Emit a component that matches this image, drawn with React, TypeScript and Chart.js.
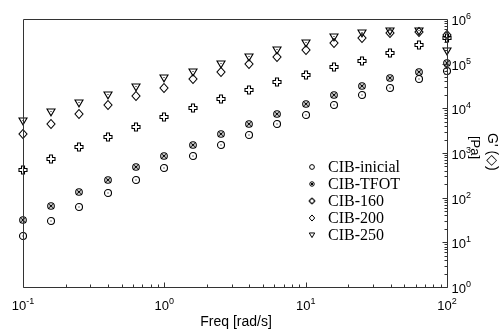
import React, { useEffect, useRef } from "react";
import { Chart, registerables } from "chart.js";

Chart.register(...registerables);

const freq = [0.1, 0.158, 0.251, 0.398, 0.631, 1, 1.585, 2.512, 3.981, 6.31, 10, 15.85, 25.12, 39.81, 63.1, 100];
const cibInicial = [13.6, 30.6, 63, 127, 253, 462, 857, 1485, 2570, 4460, 7210, 11880, 19540, 28500, 46100, 67000];
const cibTFOT = [31, 66, 132, 253, 478, 872, 1510, 2660, 4460, 7600, 12500, 19900, 31600, 47800, 65000, 103500];
const cib160 = [423, 734, 1340, 2280, 3820, 6400, 10170, 16440, 25700, 38900, 55700, 82800, 114800, 172000, 262000, 372000];
const cib200 = [2660, 4460, 7600, 11880, 18880, 28500, 46100, 66200, 100000, 141000, 205600, 290000, 369000, 487000, 510000, 447000];
const cib250 = [5120, 8130, 12940, 19900, 30000, 46900, 65000, 100000, 143500, 202000, 285000, 389000, 487000, 540000, 548000, 188000];
const seriesLabels = ["CIB-inicial", "CIB-TFOT", "CIB-160", "CIB-200", "CIB-250"];
const markerKinds = ["circle", "tfot", "plus", "diamond", "tri"];
const xDecades = [-1, 0, 1, 2];
const yDecades = [0, 1, 2, 3, 4, 5, 6];
const xTitle = "Freq [rad/s]";
const yTitle1 = "G' (\u25C7)";
const yTitle2 = "[Pa]";

function makeMarker(kind: string, scale: number): HTMLCanvasElement {
  const s = 12;
  const cv = document.createElement("canvas");
  cv.width = s;
  cv.height = s;
  const g = cv.getContext("2d")!;
  const c = 6;
  g.strokeStyle = "#000";
  g.fillStyle = "#000";
  g.lineWidth = scale > 0.8 ? 1.1 : 1;
  const k = scale;
  g.beginPath();
  if (kind === "circle") {
    g.arc(c, c, 3.5 * k, 0, Math.PI * 2);
    g.stroke();
    if (scale > 0.8) g.fillRect(c - 0.5, c - 0.5, 1, 1);
  } else if (kind === "tfot") {
    g.arc(c, c, 3.3 * k, 0, Math.PI * 2);
    g.stroke();
    g.beginPath();
    const h = 1.7 * k;
    g.moveTo(c - h, c - h); g.lineTo(c + h, c + h);
    g.moveTo(c + h, c - h); g.lineTo(c - h, c + h);
    g.stroke();
  } else if (kind === "plus") {
    const a = 1.5 * k, b = 4 * k;
    g.moveTo(c - a, c - b); g.lineTo(c + a, c - b); g.lineTo(c + a, c - a); g.lineTo(c + b, c - a);
    g.lineTo(c + b, c + a); g.lineTo(c + a, c + a); g.lineTo(c + a, c + b); g.lineTo(c - a, c + b);
    g.lineTo(c - a, c + a); g.lineTo(c - b, c + a); g.lineTo(c - b, c - a); g.lineTo(c - a, c - a);
    g.closePath();
    g.stroke();
  } else if (kind === "diamond") {
    g.moveTo(c, c - 4.5 * k); g.lineTo(c + 4 * k, c); g.lineTo(c, c + 4.5 * k); g.lineTo(c - 4 * k, c);
    g.closePath();
    g.stroke();
  } else {
    g.moveTo(c - 4 * k, c - 3 * k); g.lineTo(c + 4 * k, c - 3 * k); g.lineTo(c, c + 3.8 * k);
    g.closePath();
    g.stroke();
    if (scale > 0.8) g.fillRect(c - 0.5, c - 1, 1, 1);
  }
  return cv;
}

let legendMarkers: HTMLCanvasElement[] = [];

function drawPow(ctx: CanvasRenderingContext2D, exp: number, x: number, baseline: number, align: "center" | "left") {
  const baseFont = "13px 'Liberation Sans', Arial, sans-serif";
  const expFont = "9px 'Liberation Sans', Arial, sans-serif";
  const es = String(exp);
  ctx.font = baseFont;
  const wb = ctx.measureText("10").width;
  ctx.font = expFont;
  const we = ctx.measureText(es).width;
  const total = wb + we;
  const x0 = align === "center" ? x - total / 2 : x;
  ctx.textAlign = "left";
  ctx.textBaseline = "alphabetic";
  ctx.font = baseFont;
  ctx.fillText("10", x0, baseline);
  ctx.font = expFont;
  ctx.fillText(es, x0 + wb, baseline - 6);
}

const snapPlugin = {
  id: "snapPoints",
  beforeDatasetsDraw(chart: any) {
    chart.data.datasets.forEach((_: any, i: number) => {
      const meta = chart.getDatasetMeta(i);
      meta.data.forEach((el: any) => {
        el.x = Math.round(el.x);
        el.y = Math.round(el.y);
      });
    });
  },
};

const axesPlugin = {
  id: "customAxes",
  afterDraw(chart: any) {
    const { ctx, chartArea: a } = chart;
    const xs = chart.scales.x;
    const ys = chart.scales.y;
    ctx.save();
    ctx.strokeStyle = "#333";
    ctx.lineWidth = 1;
    const L = Math.round(a.left) + 0.5, R = Math.round(a.right) + 0.5;
    const T = Math.round(a.top) + 0.5, B = Math.round(a.bottom) + 0.5;
    ctx.beginPath();
    ctx.moveTo(L, T); ctx.lineTo(R, T); ctx.lineTo(R, B); ctx.lineTo(L, B); ctx.closePath();
    ctx.stroke();
    ctx.beginPath();
    for (let d = -1; d <= 1; d++) {
      for (let m = 1; m <= 9; m++) {
        const v = m * Math.pow(10, d);
        const px = Math.round(xs.getPixelForValue(v)) + 0.5;
        const len = m === 1 ? 5 : 3;
        ctx.moveTo(px, B); ctx.lineTo(px, B - len);
      }
    }
    for (let d = 0; d <= 5; d++) {
      for (let m = 1; m <= 9; m++) {
        const v = m * Math.pow(10, d);
        const py = Math.round(ys.getPixelForValue(v)) + 0.5;
        const len = m === 1 ? 5 : 3;
        ctx.moveTo(R, py); ctx.lineTo(R - len, py);
      }
    }
    ctx.stroke();
    ctx.fillStyle = "#000";
    xDecades.forEach((e) => {
      drawPow(ctx, e, xs.getPixelForValue(Math.pow(10, e)), 310, "center");
    });
    yDecades.forEach((e) => {
      drawPow(ctx, e, R + 4, ys.getPixelForValue(Math.pow(10, e)) + 6, "left");
    });
    ctx.font = "14px 'Liberation Sans', Arial, sans-serif";
    ctx.textAlign = "center";
    ctx.textBaseline = "alphabetic";
    ctx.fillText(xTitle, (a.left + a.right) / 2 + 1, 326);
    ctx.save();
    ctx.translate(492, 133);
    ctx.rotate(Math.PI / 2);
    ctx.textAlign = "left";
    ctx.textBaseline = "middle";
    ctx.fillText(yTitle1, 0, 0);
    ctx.restore();
    ctx.save();
    ctx.translate(475, 136);
    ctx.rotate(Math.PI / 2);
    ctx.textAlign = "left";
    ctx.textBaseline = "middle";
    ctx.font = "13px 'Liberation Sans', Arial, sans-serif";
    ctx.fillText(yTitle2, 0, 0);
    ctx.restore();
    ctx.font = "16px 'Liberation Serif', 'Times New Roman', serif";
    ctx.textAlign = "left";
    ctx.textBaseline = "middle";
    seriesLabels.forEach((lab, i) => {
      const yc = 167 + i * 17;
      const mk = legendMarkers[i];
      if (mk) ctx.drawImage(mk, 312 - mk.width / 2, yc - mk.height / 2);
      ctx.fillText(lab, 328, yc + 1);
    });
    ctx.restore();
  },
};

export default function App() {
  const ref = useRef<HTMLCanvasElement | null>(null);
  useEffect(() => {
    if (!ref.current) return;
    legendMarkers = markerKinds.map((k) => makeMarker(k, 0.68));
    const seriesValues = [cibInicial, cibTFOT, cib160, cib200, cib250];
    const datasets = seriesLabels.map((lab, i) => ({
      label: lab,
      data: freq.map((f, j) => ({ x: f, y: seriesValues[i][j] })),
      pointStyle: makeMarker(markerKinds[i], 1),
      pointRadius: 4,
      showLine: false,
      clip: false as any,
      borderColor: "#000",
      backgroundColor: "#000",
    }));
    const chart: any = new Chart(ref.current, {
      type: "scatter",
      data: { datasets },
      options: {
        responsive: false,
        animation: false,
        devicePixelRatio: 1,
        layout: { padding: { left: 23, top: 19, right: 55, bottom: 42 } },
        plugins: { legend: { display: false }, tooltip: { enabled: false } },
        scales: {
          x: { type: "logarithmic", min: 0.1, max: 100, display: false },
          y: { type: "logarithmic", min: 1, max: 1e6, display: false, position: "right" },
        },
      },
      plugins: [snapPlugin, axesPlugin],
    });
    return () => chart.destroy();
  }, []);
  return (
    <div style={{ position: "absolute", left: 0, top: 0, width: 502, height: 329, background: "#fff" }}>
      <canvas ref={ref} width={502} height={329} style={{ display: "block" }} />
    </div>
  );
}
